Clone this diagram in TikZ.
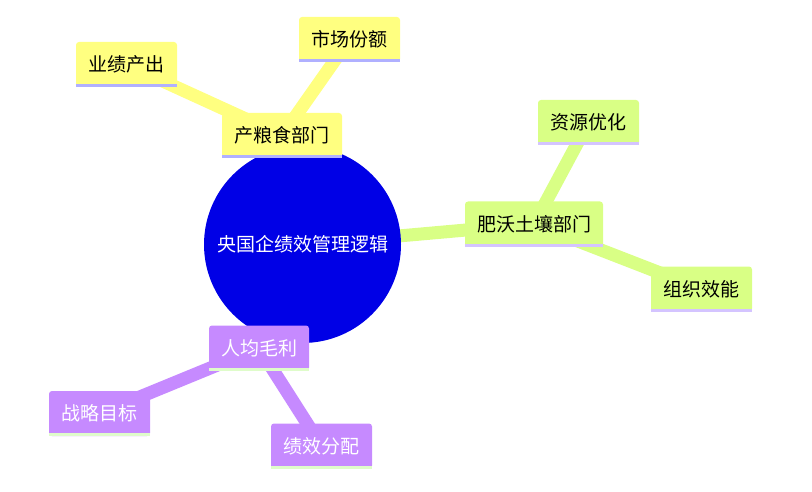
\documentclass[tikz,border=0pt]{standalone}
\usepackage{fontspec}
\newfontfamily\cjk{Noto Sans CJK SC}
\usetikzlibrary{backgrounds}
\definecolor{yelF}{HTML}{FFFF80}
\definecolor{yelS}{HTML}{B0B0FF}
\definecolor{grnF}{HTML}{D9FF85}
\definecolor{grnS}{HTML}{D4C4FF}
\definecolor{purF}{HTML}{C68AFF}
\definecolor{purS}{HTML}{DFFCCA}
\definecolor{rootF}{HTML}{0000E6}
\tikzset{
  mmtext/.style={font=\cjk\fontsize{19}{21}\selectfont},
  mmbox/.style n args={2}{mmtext, fill=#1, text=#2, rounded corners=3pt,
    minimum height=45pt, inner sep=0pt},
  yelbox/.style={mmbox={yelF}{black}},
  grnbox/.style={mmbox={grnF}{black}},
  purbox/.style={mmbox={purF}{white}},
  rootnode/.style={mmtext, circle, fill=rootF, text=white, minimum size=197pt, inner sep=0pt},
  link/.style={line width=13pt, draw=#1},
  stripe/.style={fill=#1, sharp corners},
}
\begin{document}
\begin{tikzpicture}[x=1pt,y=-1pt]
\useasboundingbox (0,0) rectangle (812,492);
\node[rootnode] (root) at (302.5,244.5) {央国企绩效管理逻辑};
\node[yelbox, minimum width=120pt] (a) at (282,135.5) {产粮食部门};
\node[yelbox, minimum width=101pt] (a1) at (126.5,64.5) {业绩产出};
\node[yelbox, minimum width=101pt] (a2) at (349.5,39.5) {市场份额};
\node[grnbox, minimum width=138pt] (b) at (534,224) {肥沃土壤部门};
\node[grnbox, minimum width=101pt] (b1) at (588.5,122.5) {资源优化};
\node[grnbox, minimum width=101pt] (b2) at (701.5,289) {组织效能};
\node[purbox, minimum width=100pt] (c) at (259,348) {人均毛利};
\node[purbox, minimum width=101pt] (c1) at (99.5,413.5) {战略目标};
\node[purbox, minimum width=101pt] (c2) at (321.5,446) {绩效分配};
\foreach \n/\c in {a/yelS,a1/yelS,a2/yelS,b/grnS,b1/grnS,b2/grnS,c/purS,c1/purS,c2/purS}
  \fill[stripe=\c] (\n.south west) rectangle ([yshift=3pt]\n.south east);
\begin{scope}[on background layer]
\draw[link=yelF] (root.center) -- (a.center);
\draw[link=yelF] (a.center) -- (a1.center);
\draw[link=yelF] (a.center) -- (a2.center);
\draw[link=grnF] (root.center) -- (b.center);
\draw[link=grnF] (b.center) -- (b1.center);
\draw[link=grnF] (b.center) -- (b2.center);
\draw[link=purF] (root.center) -- (c.center);
\draw[link=purF] (c.center) -- (c1.center);
\draw[link=purF] (c.center) -- (c2.center);
\end{scope}
\end{tikzpicture}
\end{document}
